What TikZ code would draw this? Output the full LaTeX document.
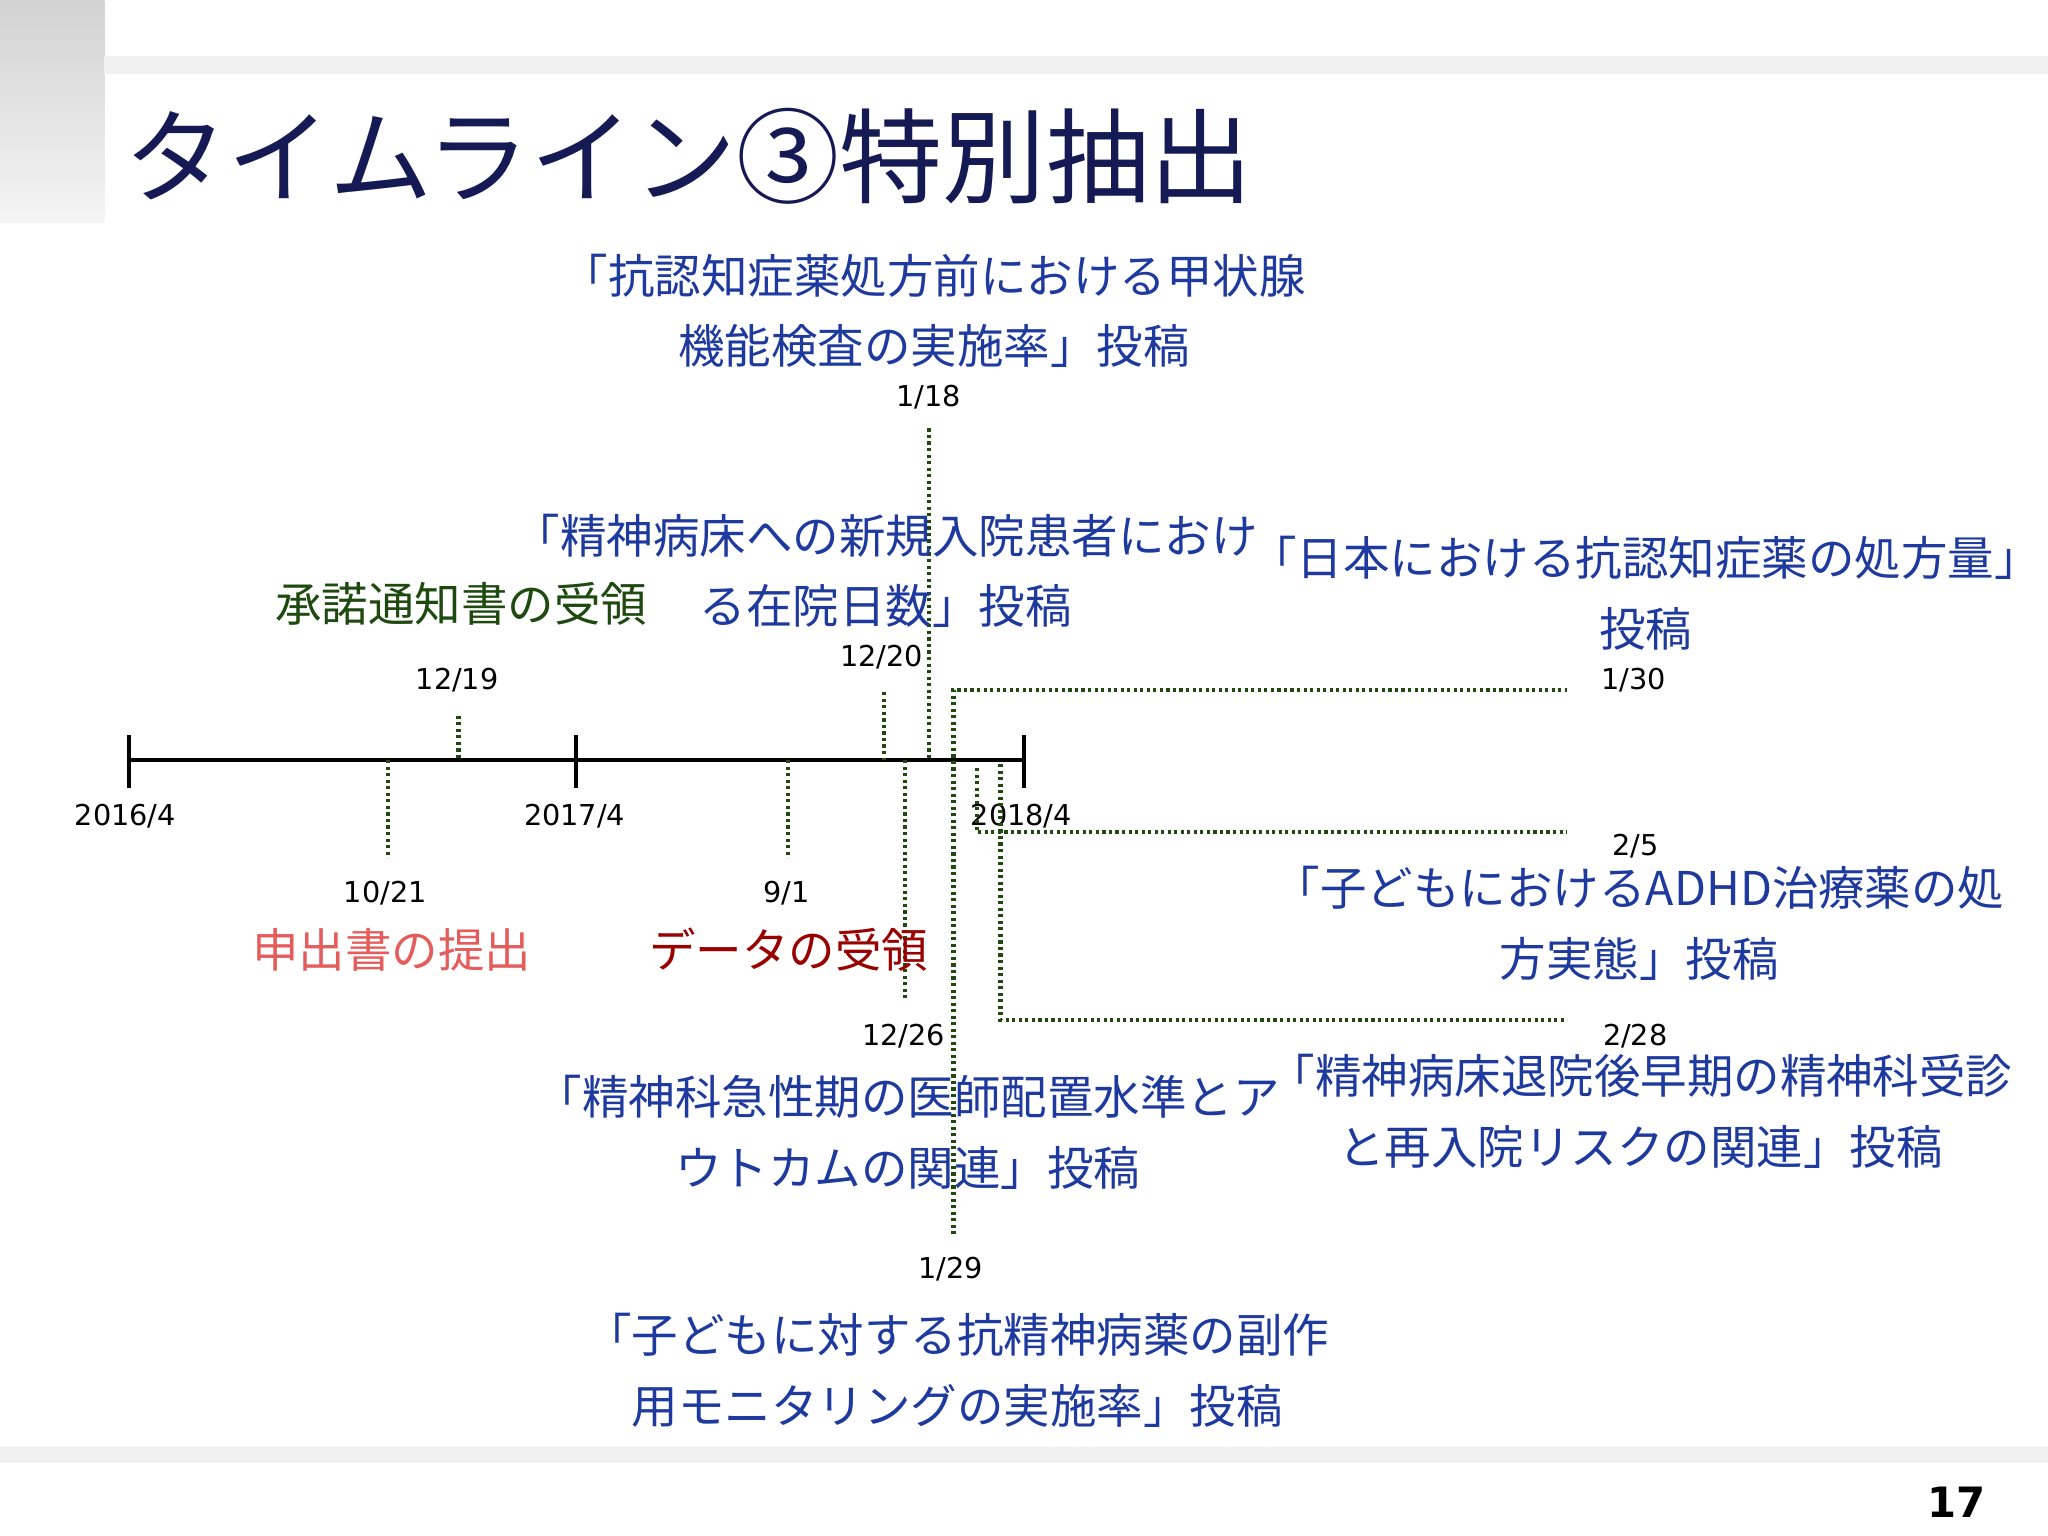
\documentclass[tikz,border=0pt]{standalone}
\usepackage{fontspec}
\setmainfont{Noto Sans CJK JP}
\newfontfamily\datefont{DejaVu Sans}
\begin{document}
\begin{tikzpicture}[x=0.5pt,y=-0.5pt,
  blue txt/.style={text=blutxt,font=\fontsize{17.8}{27}\selectfont,align=center,inner sep=0},
  datelbl/.style={font=\datefont\fontsize{11}{12}\selectfont,inner sep=0},
  dl/.style={draw=dgreen,line width=1.6pt,dash pattern=on 1.2pt off 1.3pt},
]
\definecolor{blutxt}{HTML}{1F3A9E}
\definecolor{dgreen}{HTML}{1E4A10}
\definecolor{navy}{HTML}{151A55}
\useasboundingbox (0,0) rectangle (1568,1176);
\fill[white] (0,0) rectangle (1568,1176);
\shade[top color=gray!35,bottom color=gray!8] (0,0) rectangle (80,170);
\fill[gray!12] (80,43) rectangle (1568,57);
\fill[gray!12] (0,1108) rectangle (1568,1120);
\node[text=navy,font=\fontsize{39.5}{42}\selectfont,anchor=west,inner sep=0] (title) at (95,120) {タイムライン③特別抽出};
\node[font=\datefont\bfseries\fontsize{16}{18}\selectfont,inner sep=0] (pg) at (1498,1150) {17};
% axis
\coordinate (a0) at (99,582); \coordinate (a2) at (784,582);
\draw[line width=1.5pt] (a0) -- (a2);
\foreach \x/\n in {99/t0,441/t1,784/t2} \draw[line width=1.5pt] (\x,563) -- (\x,603);
\node[datelbl] (y0) at (96,625) {2016/4};
\node[datelbl] (y1) at (440,625) {2017/4};
\node[datelbl] (y2) at (782,625) {2018/4};
% date lines
\coordinate (p1a) at (351,548); \coordinate (p1b) at (351,582); \draw[dl] (p1a)--(p1b);
\node[datelbl] at (350,521) {12/19};
\coordinate (p2a) at (297,582); \coordinate (p2b) at (297,657); \draw[dl] (p2a)--(p2b);
\node[datelbl] at (295,684) {10/21};
\coordinate (p3a) at (603,582); \coordinate (p3b) at (603,657); \draw[dl] (p3a)--(p3b);
\node[datelbl] at (602,684) {9/1};
\coordinate (p4a) at (677,530); \coordinate (p4b) at (677,582); \draw[dl] (p4a)--(p4b);
\node[datelbl] at (675,503) {12/20};
\coordinate (p5a) at (711,328); \coordinate (p5b) at (711,582); \draw[dl] (p5a)--(p5b);
\node[datelbl] at (711,304) {1/18};
\coordinate (p6a) at (693,582); \coordinate (p6b) at (693,765); \draw[dl] (p6a)--(p6b);
\node[datelbl] at (692,793) {12/26};
\coordinate (p7a) at (730,528); \coordinate (p7b) at (730,945); \coordinate (p7c) at (1200,528);
\draw[dl] (p7b)--(p7a)--(p7c);
\node[datelbl] at (728,972) {1/29};
\node[datelbl] at (1251,521) {1/30};
\coordinate (p8a) at (748,588); \coordinate (p8b) at (748,637); \coordinate (p8c) at (1200,637);
\draw[dl] (p8a)--(p8b)--(p8c);
\node[datelbl] at (1252,648) {2/5};
\coordinate (p9a) at (766,585); \coordinate (p9b) at (766,781); \coordinate (p9c) at (1200,781);
\draw[dl] (p9a)--(p9b)--(p9c);
\node[datelbl] at (1252,793) {2/28};
% texts
\node[blue txt] (t1) at (715,238) {「抗認知症薬処方前における甲状腺\\機能検査の実施率」投稿};
\node[blue txt] (t2) at (678,437) {「精神病床への新規入院患者におけ\\る在院日数」投稿};
\node[text=dgreen,font=\fontsize{17.8}{27}\selectfont,inner sep=0] (t3) at (353,462) {承諾通知書の受領};
\node[blue txt] (t4) at (1260,454) {「日本における抗認知症薬の処方量」\\投稿};
\node[text=red!60!white!90!black,font=\fontsize{17.8}{27}\selectfont,inner sep=0] (t5) at (300,727) {申出書の提出};
\node[text=red!60!black,font=\fontsize{17.8}{27}\selectfont,inner sep=0] (t6) at (604,727) {データの受領};
\node[blue txt] (t7) at (1255,707) {「子どもにおけるADHD治療薬の処\\方実態」投稿};
\node[blue txt] (t8) at (695,867) {「精神科急性期の医師配置水準とア\\ウトカムの関連」投稿};
\node[blue txt] (t9) at (1256,851) {「精神病床退院後早期の精神科受診\\と再入院リスクの関連」投稿};
\node[blue txt] (t10) at (733,1049) {「子どもに対する抗精神病薬の副作\\用モニタリングの実施率」投稿};
\end{tikzpicture}
\end{document}
